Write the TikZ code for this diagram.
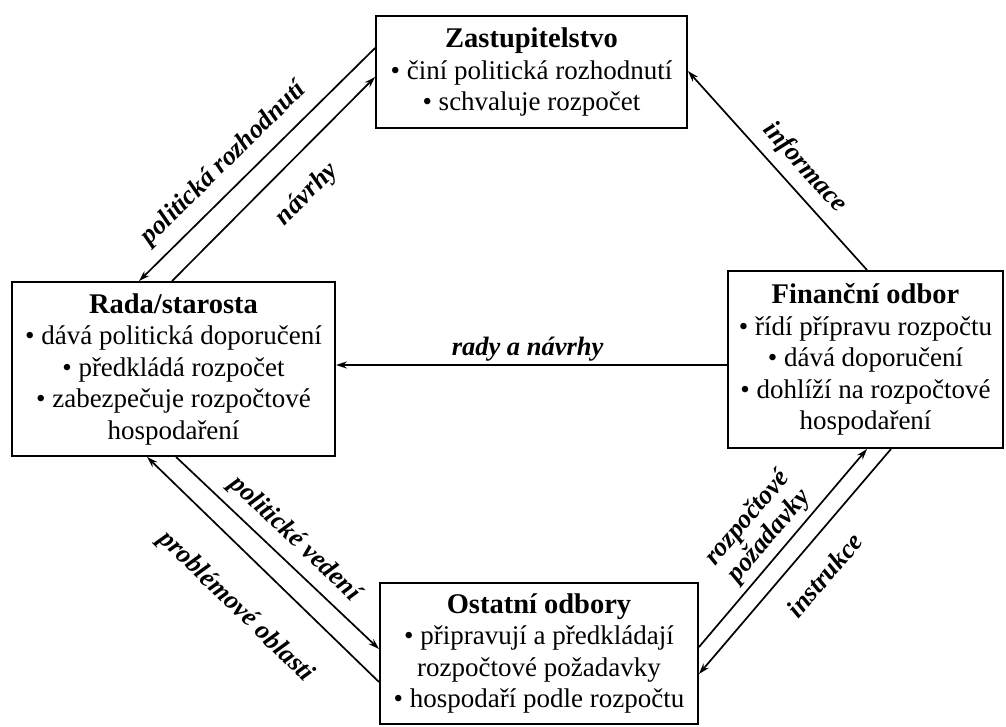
\documentclass[tikz,border=0pt]{standalone}
\usepackage{fontspec}
\setmainfont{Liberation Serif}
\usetikzlibrary{arrows.meta,calc}
\begin{document}
\begin{tikzpicture}[x=1pt,y=-1pt,
  box/.style={draw, line width=1.9pt, rectangle, inner sep=0pt, align=center, font=\fontsize{27}{31.5}\selectfont},
  arr/.style={line width=1.7pt, -{Stealth[length=11pt,width=7pt]}},
  lab/.style={font=\fontsize{26.5}{28}\selectfont\bfseries\itshape, sloped, inner sep=1pt, align=center}]
\useasboundingbox[fill=white] (0,0) rectangle (1006,727);

\node[box, minimum width=311pt, minimum height=112pt] (Z) at (531.5,72)
  {{\fontsize{28.5}{31.5}\selectfont\bfseries Zastupitelstvo}\\ • činí politická rozhodnutí\\ • schvaluje rozpočet};
\node[box, minimum width=323pt, minimum height=174pt] (R) at (173.5,369)
  {{\fontsize{28.5}{31.5}\selectfont\bfseries Rada/starosta}\\ • dává politická doporučení\\ • předkládá rozpočet\\ • zabezpečuje rozpočtové\\ hospodaření};
\node[box, minimum width=275pt, minimum height=177pt] (F) at (865.5,359.5)
  {{\fontsize{28.5}{31.5}\selectfont\bfseries Finanční odbor}\\ • řídí přípravu rozpočtu\\ • dává doporučení\\ • dohlíží na rozpočtové\\ hospodaření};
\node[box, minimum width=318pt, minimum height=141pt] (O) at (539,653.5)
  {{\fontsize{28.5}{31.5}\selectfont\bfseries Ostatní odbory}\\ • připravují a předkládají\\ rozpočtové požadavky\\ • hospodaří podle rozpočtu};

% Zastupitelstvo <-> Rada
\draw[arr] ([yshift=-33pt]Z.north west) -- node[lab, pos=0.57, above=10pt] {politická rozhodnutí} ([xshift=128pt]R.north west);
\draw[arr] ([xshift=161pt]R.north west) -- node[lab, pos=0.545, below=21pt] {návrhy} ([yshift=-62pt]Z.north west);
% Financni -> Zastupitelstvo
\draw[arr] ([xshift=140pt]F.north west) -- node[lab, pos=0.44, above=8pt] {informace} ([yshift=-56pt]Z.north east);
% Financni -> Rada
\draw[arr] ([yshift=-5.5pt]F.west) coordinate (fw) -- node[lab, pos=0.51, above=2pt] {rady a návrhy} (fw -| R.east);
% Rada <-> Ostatni
\draw[arr] ([xshift=165pt]R.south west) -- node[lab, pos=0.51, above=8pt] {politické vedení} ([yshift=-67pt]O.north west);
\draw[arr] ([yshift=-100pt]O.north west) -- node[lab, pos=0.48, below=32pt] {problémové oblasti} ([xshift=136pt]R.south west);
% Ostatni <-> Financni
\draw[arr] ([yshift=-65pt]O.north east) -- node[lab, pos=0.5, above=4pt] {rozpočtové\\požadavky} ([xshift=140pt]F.south west);
\draw[arr] ([xshift=164pt]F.south west) -- node[lab, pos=0.47, below=20pt] {instrukce} ([yshift=-92pt]O.north east);
\end{tikzpicture}
\end{document}
